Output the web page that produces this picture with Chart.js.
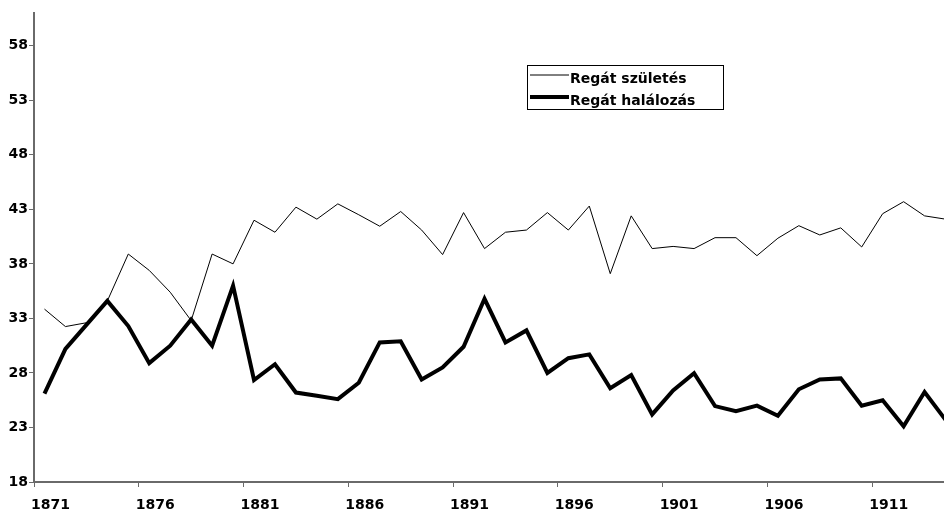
<!DOCTYPE html>
<html>
<head>
<meta charset="utf-8">
<script src="https://cdn.jsdelivr.net/npm/chart.js@4/dist/chart.umd.min.js"></script>
<style>
  html, body { margin: 0; padding: 0; background: #fff; overflow: hidden; }
  #wrap { width: 956px; height: 513px; }
</style>
</head>
<body>
<div id="wrap"><canvas id="c" width="956" height="513"></canvas></div>
<script>
const years = ["1871","1872","1873","1874","1875","1876","1877","1878","1879","1880",
  "1881","1882","1883","1884","1885","1886","1887","1888","1889","1890",
  "1891","1892","1893","1894","1895","1896","1897","1898","1899","1900",
  "1901","1902","1903","1904","1905","1906","1907","1908","1909","1910",
  "1911","1912","1913","1914"];
const births = [33.85, 32.25, 32.6, 34.6, 38.9, 37.4, 35.4, 32.8, 38.9, 38.0,
  42.0, 40.9, 43.2, 42.1, 43.5, 42.5, 41.45, 42.8, 41.1, 38.85,
  42.7, 39.4, 40.9, 41.1, 42.7, 41.1, 43.3, 37.1, 42.4, 39.4,
  39.6, 39.4, 40.4, 40.4, 38.75, 40.35, 41.5, 40.65, 41.3, 39.55,
  42.6, 43.7, 42.4, 42.1];
const deaths = [26.1, 30.2, 32.4, 34.6, 32.3, 28.9, 30.5, 32.9, 30.5, 36.0,
  27.35, 28.8, 26.2, 25.9, 25.6, 27.1, 30.8, 30.9, 27.4, 28.5,
  30.4, 34.8, 30.8, 31.9, 28.0, 29.35, 29.7, 26.6, 27.8, 24.2,
  26.4, 27.97, 24.96, 24.5, 25.0, 24.07, 26.5, 27.4, 27.5, 25.0,
  25.5, 23.1, 26.25, 23.7];
const yTicks = [18, 23, 28, 33, 38, 43, 48, 53, 58];
const seriesNames = ["Regát születés", "Regát halálozás"];

const FONT = "'DejaVu Sans', Verdana, sans-serif";
const AXIS = '#6a6a6a';

const boxLegend = {
  id: 'boxLegend',
  afterDraw(chart) {
    const ctx = chart.ctx;
    ctx.save();
    ctx.strokeStyle = '#000';
    ctx.lineWidth = 1;
    ctx.strokeRect(527.5, 65.5, 196, 44);
    const rows = [75, 97];
    const textY = [79, 101];
    chart.data.datasets.forEach((ds, i) => {
      ctx.beginPath();
      ctx.strokeStyle = ds.borderColor;
      ctx.lineWidth = ds.borderWidth;
      ctx.moveTo(530, rows[i]);
      ctx.lineTo(569, rows[i]);
      ctx.stroke();
      ctx.fillStyle = '#000';
      ctx.font = "bold 14px " + FONT;
      ctx.textBaseline = 'middle';
      ctx.textAlign = 'left';
      ctx.fillText(ds.label, 570, textY[i]);
    });
    ctx.restore();
  }
};

new Chart(document.getElementById('c'), {
  type: 'line',
  data: {
    labels: years,
    datasets: [
      { label: seriesNames[0], data: births, borderColor: '#000', borderWidth: 1,
        pointRadius: 0, tension: 0, fill: false },
      { label: seriesNames[1], data: deaths, borderColor: '#000', borderWidth: 4,
        pointRadius: 0, tension: 0, fill: false }
    ]
  },
  options: {
    responsive: false,
    animation: false,
    devicePixelRatio: 1,
    layout: { padding: { top: 13, left: 0, right: 0, bottom: 0 } },
    plugins: { legend: { display: false }, tooltip: { enabled: false } },
    scales: {
      x: {
        type: 'category',
        offset: true,
        grid: {
          display: true,
          drawOnChartArea: false,
          drawTicks: true,
          tickLength: 5,
          offset: true,
          color: (c) => (c.index % 5 === 0 ? AXIS : 'rgba(0,0,0,0)')
        },
        border: { display: true, color: AXIS, width: 2 },
        ticks: {
          autoSkip: false,
          maxRotation: 0,
          minRotation: 0,
          labelOffset: 6,
          padding: 10,
          color: '#000',
          font: { family: FONT, size: 14, weight: 'bold' },
          callback: function (v, i) { return i % 5 === 0 ? years[i] : ''; }
        },
        afterFit: (s) => { s.height = 31; }
      },
      y: {
        min: 18,
        max: 61,
        afterBuildTicks: (axis) => { axis.ticks = yTicks.map(v => ({ value: v })); },
        grid: {
          display: true,
          drawOnChartArea: false,
          drawTicks: true,
          tickLength: 5,
          color: AXIS
        },
        border: { display: true, color: AXIS, width: 2 },
        ticks: {
          padding: 1,
          color: '#000',
          font: { family: FONT, size: 14, weight: 'bold' },
          callback: (v) => String(v)
        },
        afterFit: (s) => { s.width = 34; }
      }
    }
  },
  plugins: [boxLegend]
});
</script>
</body>
</html>
